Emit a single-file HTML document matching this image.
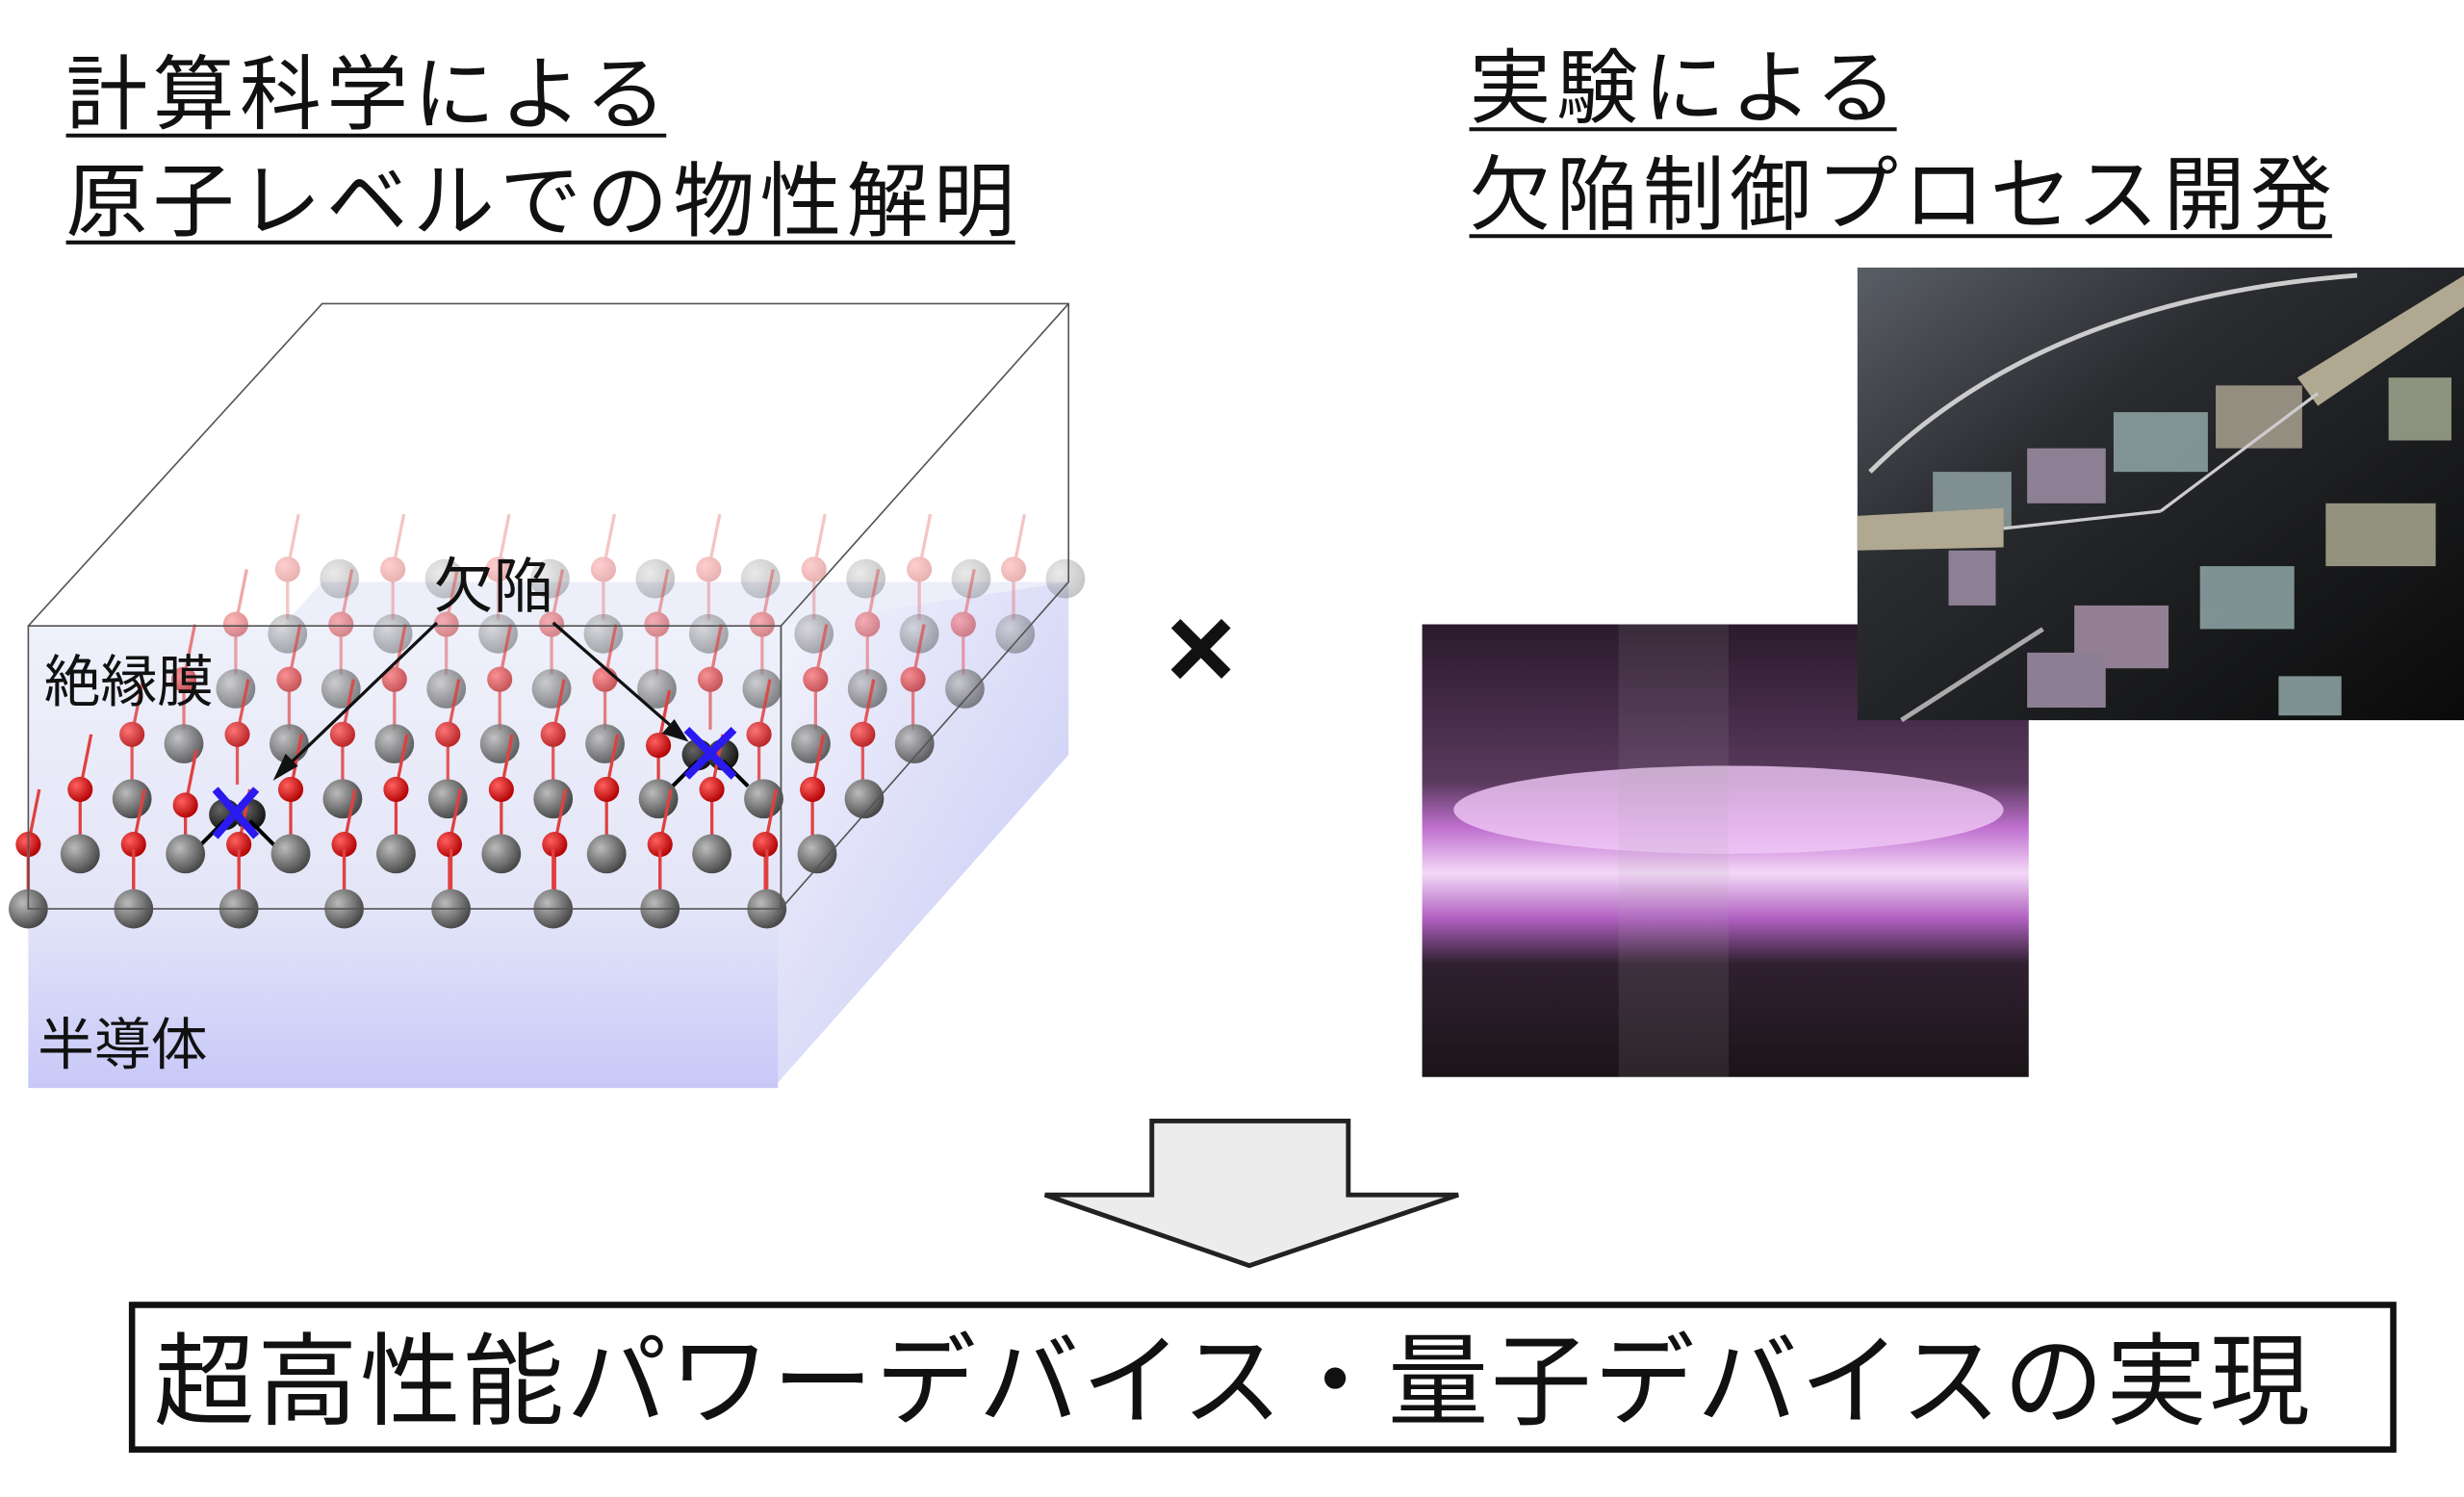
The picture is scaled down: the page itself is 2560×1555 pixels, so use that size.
<!DOCTYPE html>
<html><head><meta charset="utf-8"><style>
html,body{margin:0;padding:0;background:#fff;width:2560px;height:1555px;overflow:hidden}
text{font-family:"Liberation Sans","Noto Sans CJK JP",sans-serif}
</style></head><body>
<svg width="2560" height="1555" viewBox="0 0 1568 952" xmlns="http://www.w3.org/2000/svg" xmlns:xlink="http://www.w3.org/1999/xlink">
<defs>
<linearGradient id="front" x1="0" y1="0" x2="0" y2="1">
<stop offset="0" stop-color="#eef0fa"/><stop offset="0.6" stop-color="#e4e6f8"/><stop offset="1" stop-color="#c8c8f8"/></linearGradient>
<linearGradient id="side" x1="0" y1="0" x2="1" y2="1">
<stop offset="0" stop-color="#f4f5fc"/><stop offset="1" stop-color="#c4c6f4"/></linearGradient>
<radialGradient id="g1" cx="0.35" cy="0.35" r="0.7"><stop offset="0" stop-color="#bbb"/><stop offset="1" stop-color="#444"/></radialGradient>
<radialGradient id="r1" cx="0.35" cy="0.35" r="0.7"><stop offset="0" stop-color="#ff6060"/><stop offset="1" stop-color="#b00000"/></radialGradient>
<radialGradient id="k1" cx="0.35" cy="0.35" r="0.7"><stop offset="0" stop-color="#666"/><stop offset="1" stop-color="#111"/></radialGradient>
<linearGradient id="p2" x1="0" y1="0" x2="0" y2="1">
<stop offset="0" stop-color="#2a1a2c"/><stop offset="0.35" stop-color="#5a3a5e"/><stop offset="0.45" stop-color="#c070d0"/><stop offset="0.55" stop-color="#f4d8f8"/><stop offset="0.65" stop-color="#b060c0"/><stop offset="0.75" stop-color="#302030"/><stop offset="1" stop-color="#1a1418"/></linearGradient>
<linearGradient id="p1" x1="0" y1="0" x2="1" y2="1">
<stop offset="0" stop-color="#5a5e66"/><stop offset="0.35" stop-color="#2a2c30"/><stop offset="1" stop-color="#0a0a0a"/></linearGradient>
<g id="u"><line x1="-33" y1="-6" x2="-26" y2="-41" stroke="#e04040" stroke-width="2"/><line x1="-33" y1="-6" x2="-33" y2="26" stroke="#e04040" stroke-width="2"/><circle cx="0" cy="0" r="12.5" fill="url(#g1)"/><circle cx="-33" cy="-6" r="8" fill="url(#r1)"/></g>
<g id="ud"><line x1="-33" y1="-6" x2="-26" y2="-41" stroke="#e04040" stroke-width="2"/><line x1="-33" y1="-6" x2="-33" y2="26" stroke="#e04040" stroke-width="2"/><circle cx="-8" cy="0" r="10" fill="url(#k1)"/><circle cx="8" cy="0" r="10" fill="url(#k1)"/><line x1="-8" y1="4" x2="-24" y2="20" stroke="#000" stroke-width="2.5"/><line x1="8" y1="4" x2="24" y2="20" stroke="#000" stroke-width="2.5"/><circle cx="-33" cy="-6" r="8" fill="url(#r1)"/></g>
<g id="f"><line x1="0" y1="0" x2="0" y2="-38" stroke="#e04040" stroke-width="2"/><circle cx="0" cy="0" r="12.5" fill="url(#g1)"/></g>
</defs>
<text x="42" y="78" font-size="52" fill="#111" textLength="382">計算科学による</text>
<line x1="42" y1="86" x2="424" y2="86" stroke="#111" stroke-width="2.5"/>
<text x="42" y="146" font-size="52" fill="#111" textLength="604">原子レベルでの物性解明</text>
<line x1="42" y1="154" x2="646" y2="154" stroke="#111" stroke-width="2.5"/>
<text x="935" y="74" font-size="52" fill="#111" textLength="272">実験による</text>
<line x1="935" y1="82" x2="1207" y2="82" stroke="#111" stroke-width="2.5"/>
<text x="935" y="142" font-size="52" fill="#111" textLength="549">欠陥制御プロセス開発</text>
<line x1="935" y1="150" x2="1484" y2="150" stroke="#111" stroke-width="2.5"/>

<polygon points="18,578 205,370 680,370 497,578" fill="#eceef9"/>
<polygon points="497,398 680,370 680,480 492,692" fill="url(#side)"/>
<rect x="18" y="398" width="477" height="294" fill="url(#front)"/>

<g opacity="0.3">
<use xlink:href="#u" x="216" y="368"/><use xlink:href="#u" x="283" y="368"/><use xlink:href="#u" x="350" y="368"/><use xlink:href="#u" x="417" y="368"/><use xlink:href="#u" x="484" y="368"/><use xlink:href="#u" x="551" y="368"/><use xlink:href="#u" x="618" y="368"/><use xlink:href="#u" x="678" y="368"/>
</g>
<g opacity="0.45">
<use xlink:href="#u" x="183" y="403"/><use xlink:href="#u" x="250" y="403"/><use xlink:href="#u" x="317" y="403"/><use xlink:href="#u" x="384" y="403"/><use xlink:href="#u" x="451" y="403"/><use xlink:href="#u" x="518" y="403"/><use xlink:href="#u" x="585" y="403"/><use xlink:href="#u" x="646" y="403"/>
</g>
<g opacity="0.65">
<use xlink:href="#u" x="150" y="438"/><use xlink:href="#u" x="217" y="438"/><use xlink:href="#u" x="284" y="438"/><use xlink:href="#u" x="351" y="438"/><use xlink:href="#u" x="418" y="438"/><use xlink:href="#u" x="485" y="438"/><use xlink:href="#u" x="552" y="438"/><use xlink:href="#u" x="614" y="438"/>
</g>
<g opacity="0.85">
<use xlink:href="#u" x="117" y="473"/><use xlink:href="#u" x="184" y="473"/><use xlink:href="#u" x="251" y="473"/><use xlink:href="#u" x="318" y="473"/><use xlink:href="#u" x="385" y="473"/><use xlink:href="#u" x="516" y="473"/><use xlink:href="#u" x="582" y="473"/>
</g>
<use xlink:href="#ud" x="452" y="480"/>
<use xlink:href="#u" x="84" y="508"/><use xlink:href="#ud" x="151" y="518"/><use xlink:href="#u" x="218" y="508"/><use xlink:href="#u" x="285" y="508"/><use xlink:href="#u" x="352" y="508"/><use xlink:href="#u" x="419" y="508"/><use xlink:href="#u" x="486" y="508"/><use xlink:href="#u" x="550" y="508"/>
<use xlink:href="#u" x="51" y="543"/><use xlink:href="#u" x="118" y="543"/><use xlink:href="#u" x="185" y="543"/><use xlink:href="#u" x="252" y="543"/><use xlink:href="#u" x="319" y="543"/><use xlink:href="#u" x="386" y="543"/><use xlink:href="#u" x="453" y="543"/><use xlink:href="#u" x="520" y="543"/>
<use xlink:href="#f" x="18" y="578"/><use xlink:href="#f" x="85" y="578"/><use xlink:href="#f" x="152" y="578"/><use xlink:href="#f" x="219" y="578"/><use xlink:href="#f" x="287" y="578"/><use xlink:href="#f" x="352" y="578"/><use xlink:href="#f" x="420" y="578"/><use xlink:href="#f" x="488" y="578"/>

<polyline points="18,398 205,193 680,193 680,370 497,578 497,398 680,193" fill="none" stroke="#555" stroke-width="1"/>
<rect x="18" y="398" width="479" height="180" fill="none" stroke="#555" stroke-width="1"/>
<g stroke="#2a1af0" stroke-width="5">
<line x1="137" y1="502" x2="163" y2="532"/><line x1="163" y1="502" x2="137" y2="532"/>
<line x1="437" y1="464" x2="467" y2="494"/><line x1="467" y1="464" x2="437" y2="494"/>
</g>
<text x="276" y="386" font-size="38" fill="#111">欠陥</text>
<g stroke="#111" stroke-width="2" fill="#111">
<line x1="278" y1="396" x2="180" y2="490"/><polygon points="176,494 182,481 188,487"/>
<line x1="352" y1="396" x2="432" y2="466"/><polygon points="436,470 423,466 429,459"/>
</g>
<text x="28" y="446" font-size="36" fill="#111">絶縁膜</text>
<text x="24" y="677" font-size="36" fill="#111">半導体</text>

<text x="742" y="438" font-size="76" font-weight="bold" fill="#111">×</text>

<rect x="905" y="397" width="386" height="288" fill="url(#p2)"/>
<ellipse cx="1100" cy="515" rx="175" ry="28" fill="#f0c8f6" opacity="0.8"/>
<rect x="1030" y="397" width="70" height="288" fill="#aaa" opacity="0.12"/>
<rect x="1182" y="170" width="386" height="288" fill="url(#p1)"/>
<path d="M1190,300 Q1300,190 1500,175" stroke="#ccc" stroke-width="3" fill="none"/>
<g opacity="0.9">
<rect x="1230" y="300" width="50" height="35" fill="#8a9a9a"/>
<rect x="1290" y="285" width="50" height="35" fill="#9a8aa0"/>
<rect x="1345" y="262" width="60" height="38" fill="#8aa0a0"/>
<rect x="1410" y="245" width="55" height="40" fill="#a09a8a"/>
<rect x="1240" y="350" width="30" height="35" fill="#9a8aa0"/>
<rect x="1320" y="385" width="60" height="40" fill="#a08aa0"/>
<rect x="1400" y="360" width="60" height="40" fill="#8aa0a0"/>
<rect x="1480" y="320" width="70" height="40" fill="#a0a08a"/>
<rect x="1290" y="415" width="50" height="35" fill="#9a8aa0"/>
<rect x="1450" y="430" width="40" height="25" fill="#8aa0a0"/>
<rect x="1520" y="240" width="40" height="40" fill="#9aa08a"/>
</g>
<polygon points="1182,328 1275,323 1275,348 1182,350" fill="#b0a890"/>
<polygon points="1462,240 1568,175 1568,195 1475,258" fill="#b0a890"/>
<line x1="1275" y1="336" x2="1375" y2="325" stroke="#ccc" stroke-width="2"/>
<line x1="1475" y1="250" x2="1375" y2="325" stroke="#ccc" stroke-width="2"/>
<line x1="1210" y1="458" x2="1300" y2="400" stroke="#aaa" stroke-width="3"/>

<polygon points="733,713 858,713 858,760 928,760 795,805 665,760 733,760" fill="#ececec" stroke="#222" stroke-width="3"/>
<rect x="84" y="830" width="1439" height="92" fill="#fff" stroke="#111" stroke-width="4"/>
<text x="98" y="901" font-size="64" fill="#111" textLength="1372">超高性能パワーデバイス・量子デバイスの実現</text>
</svg>
</body></html>
